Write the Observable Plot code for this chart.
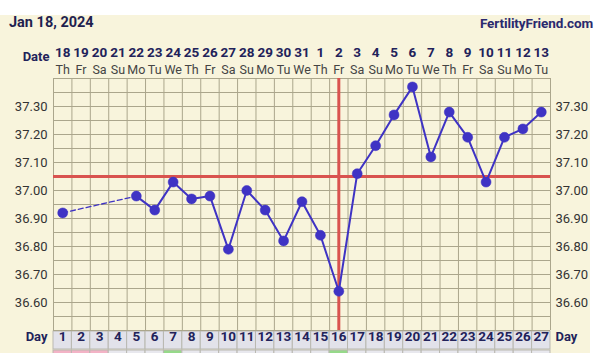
<!DOCTYPE html>
<html><head><meta charset="utf-8">
<script src="https://cdn.jsdelivr.net/npm/d3@7"></script>
<script src="https://cdn.jsdelivr.net/npm/@observablehq/plot@0.6"></script>
<style>
body{margin:0;background:#fff;font-family:Roboto,sans-serif;}
#wrap{position:absolute;left:0;top:15px;width:590px;height:338px;background:#f8f4dc;}
#title{position:absolute;left:9px;top:-1px;font-size:14.5px;font-weight:bold;color:#1f1f4f;white-space:nowrap;}
#brand{position:absolute;right:-3px;top:0px;font-size:13.5px;font-weight:bold;color:#2a2a6e;white-space:nowrap;letter-spacing:-0.1px;}
#chart{position:absolute;left:0;top:0;}
</style></head><body>
<div id="wrap"><div id="chart"></div><div id="title">Jan 18, 2024</div><div id="brand">FertilityFriend.com</div></div>
<script>
const dayNums = [1,2,3,4,5,6,7,8,9,10,11,12,13,14,15,16,17,18,19,20,21,22,23,24,25,26,27];
const dateNums = [18,19,20,21,22,23,24,25,26,27,28,29,30,31,1,2,3,4,5,6,7,8,9,10,11,12,13];
const weekdays = ["Th","Fr","Sa","Su","Mo","Tu","We","Th","Fr","Sa","Su","Mo","Tu","We","Th","Fr","Sa","Su","Mo","Tu","We","Th","Fr","Sa","Su","Mo","Tu"];
const temps = [36.92,null,null,null,36.98,36.93,37.03,36.97,36.98,36.79,37.00,36.93,36.82,36.96,36.84,36.64,37.06,37.16,37.27,37.37,37.12,37.28,37.19,37.03,37.19,37.22,37.28];
const yTicks = [36.6,36.7,36.8,36.9,37.0,37.1,37.2,37.3];
const coverline = 37.05;
const ovulationDay = 16;
const periodDays = [1,2,3];
const greenDays = [7,16];

const rows = dayNums.map((d,i)=>({day:d, t:temps[i], date:dateNums[i], wd:weekdays[i]}));
const valid = rows.filter(r=>r.t!=null);
// dashed connectors across missing days
const gapLinks = [];
for (let i=1;i<valid.length;i++){
  if (valid[i].day - valid[i-1].day > 1){
    gapLinks.push({day:valid[i-1].day, t:valid[i-1].t, seg:i});
    gapLinks.push({day:valid[i].day, t:valid[i].t, seg:i});
  }
}
const hGrid = d3.range(0,19).map(k=>36.5 + k*0.05);
const vGrid = d3.range(0,28).map(k=>0.5 + k);

const grid = "#aba68c", red = "#d9534f", blue = "#3f33c4", navy = "#22225a";
const plot = Plot.plot({
  width:590, height:338, marginTop:63, marginBottom:23, marginLeft:53, marginRight:40,
  x:{domain:[0.5,27.5], axis:null},
  y:{domain:[36.5,37.4], axis:null},
  style:{background:"transparent", fontFamily:"Roboto, sans-serif", overflow:"visible"},
  marks:[
    Plot.ruleY(hGrid, {stroke:grid, strokeWidth:1, strokeOpacity:1}),
    Plot.ruleX(vGrid, {stroke:grid, strokeWidth:1, strokeOpacity:1}),
    Plot.ruleY([coverline], {stroke:red, strokeWidth:3}),
    Plot.ruleX([ovulationDay], {stroke:red, strokeWidth:3}),
    Plot.line(gapLinks, {x:"day", y:"t", z:"seg", stroke:blue, strokeWidth:1.3, strokeDasharray:"5,3"}),
    Plot.line(rows, {x:"day", y:"t", stroke:blue, strokeWidth:2}),
    Plot.dot(valid, {x:"day", y:"t", r:5, fill:blue, stroke:blue, strokeWidth:0.5}),
    Plot.text(yTicks, {y:d=>d, text:d=>d.toFixed(2), frameAnchor:"left", dx:-6, textAnchor:"end", fontSize:13, fill:"#333"}),
    Plot.text(yTicks, {y:d=>d, text:d=>d.toFixed(2), frameAnchor:"right", dx:5, textAnchor:"start", fontSize:13, fill:"#333"}),
    Plot.text(rows, {x:"day", text:"date", frameAnchor:"top", dy:-31, fontSize:13.5, fontWeight:"bold", fill:navy}),
    Plot.text(rows, {x:"day", text:"wd", frameAnchor:"top", dy:-13.5, fontSize:12.5, fill:"#444"}),
    Plot.text(["Date"], {text:d=>d, frameAnchor:"top-left", dx:-4, dy:-27, textAnchor:"end", fontSize:13, fontWeight:"bold", fill:navy}),
    Plot.text(rows, {x:"day", text:"day", frameAnchor:"bottom", dy:10, fontSize:13.5, fontWeight:"bold", fill:navy}),
    Plot.text(["Day"], {text:d=>d, frameAnchor:"bottom-left", dx:-6, dy:10, textAnchor:"end", fontSize:13, fontWeight:"bold", fill:navy}),
    Plot.text(["Day"], {text:d=>d, frameAnchor:"bottom-right", dx:5, dy:10, textAnchor:"start", fontSize:13, fontWeight:"bold", fill:navy})
  ]
});
document.getElementById("chart").append(plot);
// day-row cells and marker strips, positioned with Plot's x scale
const xs = plot.scale("x");
const svg = d3.select(plot);
const g = svg.insert("g", "g");
g.selectAll("rect.cell").data(dayNums).join("rect")
  .attr("x", d=>xs.apply(d-0.5)).attr("width", d=>xs.apply(d+0.5)-xs.apply(d-0.5))
  .attr("y", 316).attr("height", 18)
  .attr("fill", "#e2e2ea").attr("stroke", "#b9b8b0").attr("stroke-width", 1);
const strips = dayNums.map(d=>({d, c: periodDays.includes(d) ? "#f3b3c6" : greenDays.includes(d) ? "#96d98a" : "#e8e8ee"}));
g.selectAll("rect.strip").data(strips).join("rect")
  .attr("x", s=>xs.apply(s.d-0.5)).attr("width", s=>xs.apply(s.d+0.5)-xs.apply(s.d-0.5))
  .attr("y", 335).attr("height", 4).attr("fill", s=>s.c).attr("stroke", "#b9b8b0").attr("stroke-width", 1);
</script>
</body></html>
